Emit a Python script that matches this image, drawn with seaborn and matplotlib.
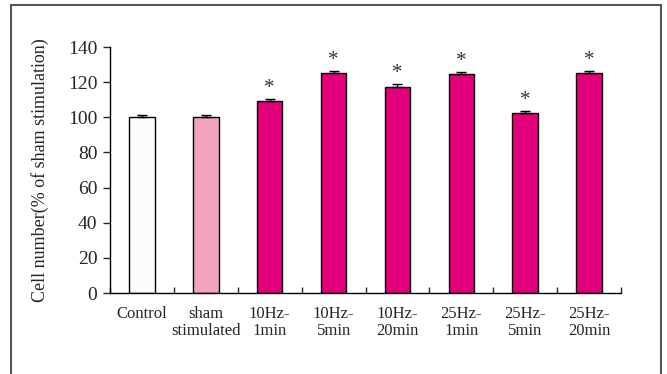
import matplotlib
matplotlib.use("Agg")
import matplotlib.pyplot as plt
import seaborn as sns
import pandas as pd
import numpy as np
from matplotlib.lines import Line2D

categories = ["Control", "sham\nstimulated", "10Hz-\n1min", "10Hz-\n5min", "10Hz-\n20min",
              "25Hz-\n1min", "25Hz-\n5min", "25Hz-\n20min"]
values = [100, 100, 109.3, 125, 117.5, 124.7, 102.3, 125]
errors = [1.5, 1.2, 1.3, 1.3, 1.3, 1.3, 1.3, 1.3]
significant = [False, False, True, True, True, True, True, True]
colors = ["#FCFCFC", "#F4A3BF", "#E2007A", "#E2007A", "#E2007A", "#E2007A", "#E2007A", "#E2007A"]

sns.set_theme(style="white")
plt.rcParams["font.family"] = ["Liberation Serif", "DejaVu Serif"]

df = pd.DataFrame({"cat": categories, "val": values})

fig = plt.figure(figsize=(6.67, 3.74), dpi=100)
ax = fig.add_axes([110/667, 1-293/374, (621-110)/667, (293-47)/374])

sns.barplot(data=df, x="cat", y="val", hue="cat", palette=colors, legend=False,
            width=0.4, edgecolor="black", linewidth=1.0, ax=ax, errorbar=None,
            saturation=1)

xs = np.arange(len(categories))
ax.errorbar(xs, values, yerr=[np.zeros(len(errors)), errors], fmt="none",
            ecolor="black", elinewidth=1.0, capsize=3.5, capthick=1.0)
for x, v, e, s in zip(xs, values, errors, significant):
    if s:
        ax.text(x, v + e + 0.5, "*", ha="center", va="bottom", fontsize=15, color="#333333")

ax.set_xlim(-0.5, 7.5)
ax.set_ylim(0, 140)
ax.set_yticks(np.arange(0, 141, 20))
ax.set_xlabel("")
ax.set_ylabel("Cell number(% of sham stimulation)", fontsize=13, labelpad=14)
ax.tick_params(axis="y", direction="out", length=5, width=1, labelsize=14, pad=4, left=True)
ax.tick_params(axis="x", which="major", length=0, labelsize=12, pad=9)
ax.set_xticks(np.arange(-0.5, 8, 1), minor=True)
ax.tick_params(axis="x", which="minor", direction="in", length=4, width=1, bottom=True)
for lbl in ax.get_xticklabels():
    lbl.set_linespacing(1.1)

for sp in ["top", "right"]:
    ax.spines[sp].set_visible(False)
for sp in ["left", "bottom"]:
    ax.spines[sp].set_color("black")
    ax.spines[sp].set_linewidth(1.0)

# outer frame
fc = "#555555"
fig.add_artist(Line2D([11/667, 11/667], [0, 1-5/374], color=fc, lw=1.5, transform=fig.transFigure))
fig.add_artist(Line2D([11/667, 661/667], [1-5/374, 1-5/374], color=fc, lw=1.5, transform=fig.transFigure))
fig.add_artist(Line2D([661/667, 661/667], [0, 1-5/374], color=fc, lw=1.5, transform=fig.transFigure))

fig.savefig("out.png", dpi=100)
